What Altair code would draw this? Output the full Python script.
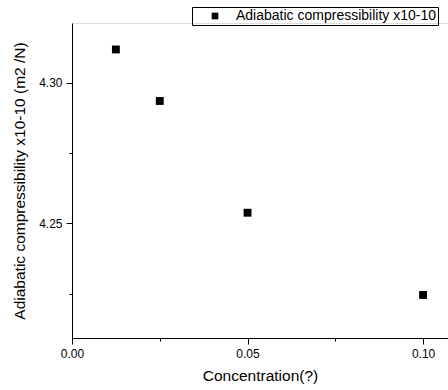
import altair as alt
import pandas as pd

concentration = [0.0125, 0.025, 0.05, 0.1]
compressibility = [4.3118, 4.2935, 4.2538, 4.2246]
series_name = "Adiabatic compressibility x10-10"

x_ticks = [0.0, 0.025, 0.05, 0.075, 0.1]
y_ticks = [4.225, 4.25, 4.275, 4.30]

df = pd.DataFrame({
    "conc": concentration,
    "comp": compressibility,
    "series": [series_name] * len(concentration),
})

FONT = "Liberation Sans"

x_major = "abs(datum.value - 0.05) < 0.001 || abs(datum.value) < 0.001 || abs(datum.value - 0.1) < 0.001"
y_major = "abs(datum.value - 4.25) < 0.001 || abs(datum.value - 4.3) < 0.001"

chart = alt.Chart(df).mark_point(shape="square", filled=True, size=62, opacity=1).encode(
    x=alt.X(
        "conc:Q",
        scale=alt.Scale(domain=[0, 0.1071], nice=False, zero=False),
        axis=alt.Axis(
            title="Concentration(?)",
            values=x_ticks,
            format=".2f",
            labelExpr=f"({x_major}) ? datum.label : ''",
            tickSize={"condition": {"test": x_major, "value": 6}, "value": 3},
            grid=False,
            labelFlush=False,
            domainColor="black",
            tickColor="black",
            labelColor="black",
            titleColor="black",
            labelFont=FONT,
            titleFont=FONT,
            labelFontSize=12,
            titleFontSize=15.5,
            titleFontWeight="normal",
            labelPadding=4,
            titlePadding=9,
        ),
    ),
    y=alt.Y(
        "comp:Q",
        scale=alt.Scale(domain=[4.2093, 4.3212], nice=False, zero=False),
        axis=alt.Axis(
            title="Adiabatic compressibility x10-10 (m2 /N)",
            values=y_ticks,
            format=".2f",
            labelExpr=f"({y_major}) ? datum.label : ''",
            tickSize={"condition": {"test": y_major, "value": 6}, "value": 3},
            grid=False,
            labelFlush=False,
            domainColor="black",
            tickColor="black",
            labelColor="black",
            titleColor="black",
            labelFont=FONT,
            titleFont=FONT,
            labelFontSize=12,
            titleFontSize=15.5,
            titleFontWeight="normal",
            labelPadding=4,
            titlePadding=11,
        ),
    ),
    color=alt.Color(
        "series:N",
        scale=alt.Scale(range=["black"]),
        legend=alt.Legend(
            title=None,
            orient="none",
            legendX=120,
            legendY=-16,
            strokeColor="black",
            padding=2,
            symbolType="square",
            symbolSize=45,
            symbolOffset=14,
            labelOffset=14,
            labelLimit=400,
            labelFont=FONT,
            labelFontSize=14,
            labelColor="black",
        ),
    ),
).properties(
    width=376,
    height=315,
    autosize=alt.AutoSizeParams(type="none"),
    padding={"left": 72, "top": 23, "right": 0, "bottom": 52},
).configure_view(
    stroke=None
).configure(background="white")

chart.save("out.html", embed_options={"renderer": "svg", "actions": False})
